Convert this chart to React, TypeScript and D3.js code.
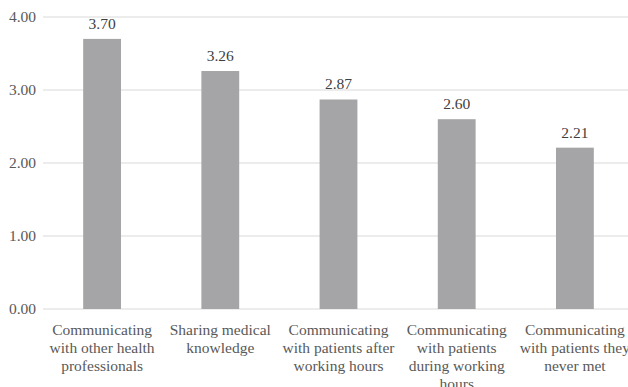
import React, { useRef, useEffect } from 'react';
import * as d3 from 'd3';

const categories = [
  'Communicating\nwith other health\nprofessionals',
  'Sharing medical\nknowledge',
  'Communicating\nwith patients after\nworking hours',
  'Communicating\nwith patients\nduring working\nhours',
  'Communicating\nwith patients they\nnever met',
];
const values = [3.7, 3.26, 2.87, 2.6, 2.21];
const yTicks = [0, 1, 2, 3, 4];

const width = 628;
const height = 387;
const margin = { top: 17, right: -6, bottom: 78, left: 43 };
const font = "'Liberation Serif', 'Times New Roman', serif";

const App = () => {
  const svgRef = useRef<SVGSVGElement>(null);

  useEffect(() => {
    const svg = d3.select(svgRef.current);
    svg.selectAll('*').remove();

    const x = d3.scaleBand()
      .domain(categories)
      .range([margin.left, width - margin.right])
      .paddingInner(0.68)
      .paddingOuter(0.34);
    const y = d3.scaleLinear()
      .domain([0, 4])
      .range([height - margin.bottom, margin.top]);

    // gridlines
    svg.append('g')
      .selectAll('line')
      .data(yTicks)
      .enter()
      .append('line')
        .attr('x1', margin.left)
        .attr('x2', width)
        .attr('y1', d => y(d))
        .attr('y2', d => y(d))
        .attr('stroke', '#d9d9d9');

    // y axis labels
    svg.append('g')
      .selectAll('text')
      .data(yTicks)
      .enter()
      .append('text')
        .attr('x', 36)
        .attr('y', d => y(d) + 5)
        .attr('text-anchor', 'end')
        .attr('font-family', font)
        .attr('font-size', 15.5)
        .attr('fill', '#595959')
        .text(d => d3.format('.2f')(d));

    // bars
    svg.append('g')
      .selectAll('rect')
      .data(values)
      .enter()
      .append('rect')
        .attr('x', (d, i) => x(categories[i]))
        .attr('width', x.bandwidth())
        .attr('y', d => y(d))
        .attr('height', d => y(0) - y(d))
        .attr('fill', '#a5a5a8');

    // value labels
    svg.append('g')
      .selectAll('text')
      .data(values)
      .enter()
      .append('text')
        .attr('x', (d, i) => x(categories[i]) + x.bandwidth() / 2)
        .attr('y', d => y(d) - 10)
        .attr('text-anchor', 'middle')
        .attr('font-family', font)
        .attr('font-size', 15.5)
        .attr('fill', '#404040')
        .text(d => d3.format('.2f')(d));

    // category labels
    const cat = svg.append('g')
      .selectAll('text')
      .data(categories)
      .enter()
      .append('text')
        .attr('text-anchor', 'middle')
        .attr('font-family', font)
        .attr('font-size', 15.5)
        .attr('fill', '#595959');
    cat.each(function(d) {
      const t = d3.select(this);
      const cx = x(d) + x.bandwidth() / 2;
      d.split('\n').forEach((line, i) => {
        t.append('tspan')
          .attr('x', cx)
          .attr('y', y(0) + 26 + i * 18)
          .text(line);
      });
    });
  }, []);

  return (
    <svg
      ref={svgRef}
      width={width}
      height={height}
      style={{ position: 'absolute', left: 0, top: 0, background: '#fff' }}
    />
  );
};

export default App;
